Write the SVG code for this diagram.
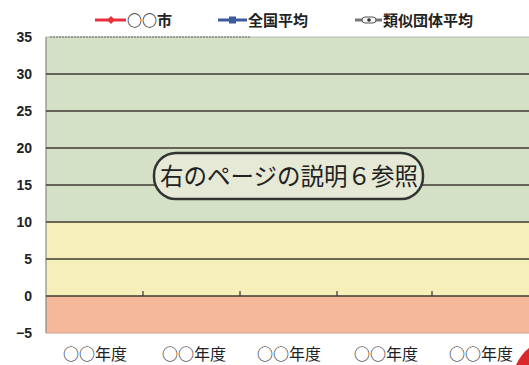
<svg xmlns="http://www.w3.org/2000/svg" width="529" height="365" viewBox="0 0 529 365">
<style>
  .ax{font-family:"Liberation Sans",Arial,sans-serif;font-size:14px;font-weight:bold;fill:#222;text-anchor:end}
  .xl{font-family:"Noto Sans CJK JP","Noto Sans",sans-serif;font-size:16px;fill:#222;text-anchor:middle}
  .lg{font-family:"Noto Sans CJK JP","Noto Sans",sans-serif;font-size:15px;font-weight:bold;fill:#222}
  .grid{stroke:#3c3c30;stroke-width:1.5}
  .tick{stroke:#333;stroke-width:1.2}
</style>
<rect width="529" height="365" fill="#ffffff"/>
<g id="plot">
  <rect x="46" y="37" width="483" height="185" fill="#d5e1c7"/>
  <rect x="46" y="222" width="483" height="74" fill="#f6efba"/>
  <rect x="46" y="296" width="483" height="37" fill="#f5b89b"/>
  <line x1="46" y1="37" x2="529" y2="37" stroke="#b8bcb0" stroke-width="1"/>
  <line x1="50" y1="37" x2="250" y2="37" stroke="#666" stroke-width="1" stroke-dasharray="2 1"/>
  <line x1="46" y1="37" x2="46" y2="333" stroke="#8a8a80" stroke-width="1.2"/>
  <line x1="46" y1="333" x2="529" y2="333" stroke="#c9a090" stroke-width="1"/>
  <line class="grid" x1="46" y1="74" x2="529" y2="74"/>
  <line class="grid" x1="46" y1="111" x2="529" y2="111"/>
  <line class="grid" x1="46" y1="148" x2="529" y2="148"/>
  <line class="grid" x1="46" y1="185" x2="529" y2="185"/>
  <line class="grid" x1="46" y1="222" x2="529" y2="222"/>
  <line class="grid" x1="46" y1="259" x2="529" y2="259"/>
  <line class="grid" x1="46" y1="296" x2="529" y2="296"/>
  <line class="tick" x1="143" y1="291" x2="143" y2="296"/>
  <line class="tick" x1="240" y1="291" x2="240" y2="296"/>
  <line class="tick" x1="337" y1="291" x2="337" y2="296"/>
  <line class="tick" x1="432" y1="291" x2="432" y2="296"/>
</g>
<g id="yaxis">
  <text class="ax" x="32" y="42">35</text>
  <text class="ax" x="32" y="79">30</text>
  <text class="ax" x="32" y="116">25</text>
  <text class="ax" x="32" y="153">20</text>
  <text class="ax" x="32" y="190">15</text>
  <text class="ax" x="32" y="227">10</text>
  <text class="ax" x="32" y="264">5</text>
  <text class="ax" x="32" y="301">0</text>
  <text class="ax" x="32" y="338">−5</text>
</g>
<g id="xaxis">
  <text class="xl" x="95" y="360">○○年度</text>
  <text class="xl" x="194" y="360">○○年度</text>
  <text class="xl" x="289" y="360">○○年度</text>
  <text class="xl" x="386" y="360">○○年度</text>
  <text class="xl" x="481" y="360">○○年度</text>
</g>
<g id="legend">
  <line x1="95" y1="20" x2="126" y2="20" stroke="#e8303c" stroke-width="3"/>
  <path d="M111 16 L115 20 L111 24 L107 20 Z" fill="#e8303c"/>
  <text class="lg" x="127" y="26">○○市</text>
  <line x1="218" y1="20" x2="247" y2="20" stroke="#3c5a9c" stroke-width="3"/>
  <rect x="229" y="16.5" width="7" height="7" fill="#3c5a9c"/>
  <text class="lg" x="248" y="26">全国平均</text>
  <line x1="355" y1="20" x2="382" y2="20" stroke="#777" stroke-width="3"/>
  <rect x="362" y="17" width="14" height="6" rx="3" fill="#f4f4f0" stroke="#555" stroke-width="1"/>
  <circle cx="369" cy="20" r="1.8" fill="#333"/>
  <text class="lg" x="383" y="26">類似団体平均</text>
</g>
<g id="note">
  <rect x="154" y="153" width="269" height="46" rx="22" fill="#e6e9d6" stroke="#333" stroke-width="2.5"/>
  <text x="289" y="185" text-anchor="middle" font-family="Noto Sans CJK JP,Noto Sans,sans-serif" font-size="23.5" fill="#222">右のページの説明６参照</text>
</g>
<path d="M529 348 Q521 354 516 365 L529 365 Z" fill="#d8282a"/>
</svg>
